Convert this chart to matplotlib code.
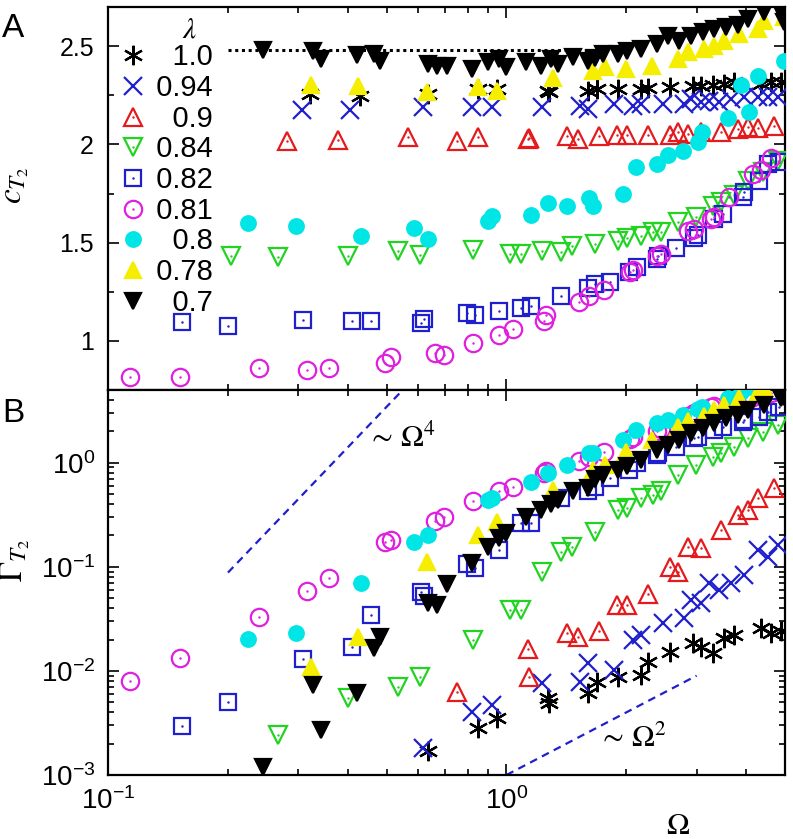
import numpy as np
import matplotlib
matplotlib.use('Agg')
import matplotlib.pyplot as plt
from matplotlib.ticker import MultipleLocator, LogLocator, NullFormatter, FuncFormatter
from matplotlib.legend_handler import HandlerTuple

plt.rcParams['font.family'] = ['Liberation Sans', 'DejaVu Sans']
plt.rcParams['mathtext.fontset'] = 'stix'

nan = np.nan

# lambda = 1.0
om_100 = [0.322, 0.43, 0.637, 0.85, 0.947, 1.27, 1.28, 1.60, 1.69, 1.91, 2.17, 2.26, 2.58, 2.93, 3.07,
          3.29, 3.51, 3.72, 4.35, 4.61, 4.88]
c_100 = [2.256, 2.246, 2.256, 2.282, 2.282, 2.272, 2.265, 2.272, 2.282, 2.282, 2.282, 2.287, 2.292,
         2.297, 2.297, 2.302, 2.307, 2.317, 2.307, 2.317, 2.317]
g_100 = [nan, nan, 0.0017, 0.0028, 0.0035, 0.0055, 0.0049, 0.0061, 0.0078, 0.0087, 0.0092, 0.0122,
         0.0152, 0.0186, 0.017, 0.0149, 0.0207, 0.0222, 0.026, 0.023, 0.024]
# lambda = 0.94
om_094 = [0.307, 0.406, 0.616, 0.818, 0.92, 1.23, 1.53, 1.60, 1.86, 2.08, 2.17, 2.47, 2.79, 2.90, 3.07,
          3.22, 3.41, 3.65, 3.94, 4.27, 4.53, 4.80]
c_094 = [2.175, 2.175, 2.19, 2.19, 2.19, 2.19, 2.195, 2.18, 2.206, 2.195, 2.206, 2.206, 2.206, 2.231,
         2.216, 2.221, 2.216, 2.231, 2.241, 2.241, 2.241, 2.241]
g_094 = [nan, nan, 0.0018, 0.004, 0.0047, 0.0077, 0.0078, 0.0119, 0.0102, 0.0199, 0.022, 0.029, 0.032,
         0.048, 0.045, 0.070, 0.06, 0.070, 0.084, 0.146, 0.125, 0.163]
# lambda = 0.9
om_090 = [0.282, 0.378, 0.567, 0.753, 0.85, 1.13, 1.14, 1.42, 1.51, 1.71, 1.89, 2.01, 2.27, 2.58, 2.69,
          2.85, 3.07, 3.45, 3.81, 4.03, 4.27, 4.69]
c_090 = [2.018, 2.023, 2.038, 2.018, 2.038, 2.03, 2.033, 2.043, 2.028, 2.043, 2.048, 2.048, 2.048, 2.048,
         2.063, 2.053, 2.063, 2.063, 2.079, 2.089, 2.084, 2.094]
g_090 = [nan, nan, nan, 0.0063, nan, 0.0163, 0.0087, 0.0232, 0.0212, 0.024, 0.043, 0.043, 0.055, 0.1,
         0.09, 0.156, 0.15, 0.227, 0.316, 0.353, 0.46, 0.575]
# lambda = 0.84
om_084 = [0.203, 0.267, 0.4, 0.535, 0.608, 0.822, 1.02, 1.09, 1.23, 1.37, 1.46, 1.67, 1.91, 2.01, 2.17,
          2.33, 2.44, 2.69, 2.99, 3.29, 3.45, 3.72, 4.03, 4.40, 4.80]
c_084 = [1.434, 1.429, 1.434, 1.455, 1.439, 1.464, 1.444, 1.444, 1.459, 1.454, 1.485, 1.495, 1.51, 1.525,
         1.536, 1.556, 1.556, 1.607, 1.632, 1.688, 1.708, 1.744, 1.815, 1.86, 1.916]
g_084 = [nan, 0.0024, 0.0055, 0.007, 0.0088, 0.020, 0.0386, 0.0386, 0.0895, 0.139, 0.156, 0.217, 0.353,
         0.37, 0.46, 0.49, 0.53, 0.77, 0.96, 1.14, 1.25, 1.43, 1.74, 1.99, 2.32]
# lambda = 0.82
om_082 = [0.153, 0.2, 0.309, 0.41, 0.458, 0.611, 0.622, 0.798, 0.836, 0.96, 1.09, 1.155, 1.37, 1.60, 1.67,
          1.82, 2.03, 2.13, 2.38, 2.40, 2.67, 2.95, 3.02, 3.31, 3.49, 3.92, 3.94, 4.30, 4.54, 4.82]
c_082 = [1.094, 1.074, 1.104, 1.099, 1.099, 1.089, 1.109, 1.14, 1.13, 1.15, 1.165, 1.18, 1.226, 1.27,
         1.287, 1.30, 1.353, 1.378, 1.419, 1.434, 1.475, 1.525, 1.54, 1.622, 1.647, 1.733, 1.759, 1.815,
         1.90, 1.91]
g_082 = [0.00296, 0.00504, 0.013, 0.017, 0.0346, 0.0575, 0.052, 0.107, 0.098, 0.146, 0.265, 0.265, 0.46,
         0.53, 0.59, 0.72, 0.86, 1.0, 1.19, 1.25, 1.43, 1.74, 1.78, 2.08, 2.22, 2.48, 2.6, 2.77, 3.1, 3.4]
# lambda = 0.81
om_081 = [0.1135, 0.152, 0.239, 0.316, 0.359, 0.497, 0.512, 0.663, 0.695, 0.826, 0.955, 1.04, 1.24, 1.26,
          1.52, 1.61, 1.76, 2.04, 2.08, 2.39, 2.44, 2.85, 2.95, 3.26, 3.31, 3.61, 4.15, 4.35, 4.61]
c_081 = [0.815, 0.815, 0.86, 0.85, 0.86, 0.886, 0.916, 0.936, 0.93, 0.99, 1.03, 1.06, 1.10, 1.13, 1.20,
         1.23, 1.26, 1.35, 1.36, 1.43, 1.44, 1.56, 1.57, 1.62, 1.63, 1.73, 1.85, 1.87, 1.93]
g_081 = [0.008, 0.0133, 0.033, 0.059, 0.078, 0.174, 0.18, 0.277, 0.30, 0.43, 0.53, 0.59, 0.80, 0.84, 1.05,
         1.14, 1.28, 1.7, 1.78, 2.0, 2.1, 2.8, 3.0, 3.4, 3.5, 3.9, 4.3, 4.5, 4.7]
# lambda = 0.8
om_080 = [0.225, 0.297, 0.432, 0.587, 0.637, 0.901, 0.92, 1.15, 1.27, 1.42, 1.61, 1.65, 1.96, 2.11, 2.39,
          2.54, 2.77, 3.02, 3.10, 3.59, 3.87, 4.05, 4.27, 4.96]
c_080 = [1.602, 1.586, 1.536, 1.576, 1.52, 1.612, 1.637, 1.642, 1.703, 1.688, 1.728, 1.688, 1.749, 1.886,
         1.90, 1.947, 1.967, 2.013, 2.063, 2.135, 2.302, 2.165, 2.348, 2.424]
g_080 = [0.0203, 0.0232, 0.070, 0.174, 0.203, 0.44, 0.46, 0.66, 0.80, 0.96, 1.25, 1.25, 1.66, 2.08, 2.42,
         2.6, 2.9, 3.3, 3.4, 4.2, 4.8, 5.3, 5.6, 6.5]
# lambda = 0.78
om_078 = [0.324, 0.425, 0.633, 0.85, 0.947, 1.31, 1.65, 1.77, 1.99, 2.32, 2.70, 2.85, 3.13, 3.31, 3.51,
          3.83, 4.27, 4.42, 4.96]
c_078 = [2.302, 2.297, 2.266, 2.292, 2.272, 2.338, 2.373, 2.393, 2.383, 2.398, 2.434, 2.47, 2.485, 2.5,
         2.525, 2.56, 2.586, 2.627, 2.647]
g_078 = [0.0109, 0.0212, 0.112, 0.203, 0.27, 0.55, 0.86, 0.96, 1.28, 1.66, 2.22, 2.5, 2.8, 3.2, 3.6, 4.2,
         4.8, 5.2, 6.0]
# lambda = 0.7
om_070 = [0.245, 0.326, 0.343, 0.422, 0.464, 0.482, 0.637, 0.67, 0.711, 0.818, 0.901, 0.955, 1.0, 1.12,
          1.22, 1.29, 1.35, 1.47, 1.60, 1.67, 1.75, 1.90, 2.01, 2.17, 2.39, 2.54, 2.71, 2.90, 3.11, 3.31,
          3.55, 3.81, 4.03, 4.42, 4.88, 4.96]
c_070 = [2.48, 2.475, 2.434, 2.454, 2.46, 2.424, 2.409, 2.40, 2.398, 2.383, 2.419, 2.434, 2.393, 2.419,
         2.398, 2.434, 2.409, 2.444, 2.424, 2.439, 2.46, 2.46, 2.475, 2.485, 2.51, 2.55, 2.525, 2.55, 2.57,
         2.586, 2.596, 2.61, 2.637, 2.673, 2.673, 2.622]
g_070 = [0.0012, 0.0073, 0.0027, 0.0062, 0.0166, 0.0212, 0.045, 0.043, 0.069, 0.109, 0.156, 0.19, 0.21,
         0.30, 0.353, 0.40, 0.44, 0.53, 0.575, 0.70, 0.77, 0.86, 0.92, 1.07, 1.33, 1.49, 1.66, 1.94, 2.17,
         2.42, 2.7, 2.9, 3.2, 3.6, 4.2, 4.3]

labels = ['1.0', '0.94', '0.9', '0.84', '0.82', '0.81', '0.8', '0.78', '0.7']
omegas = [om_100, om_094, om_090, om_084, om_082, om_081, om_080, om_078, om_070]
cs = [c_100, c_094, c_090, c_084, c_082, c_081, c_080, c_078, c_070]
gammas = [g_100, g_094, g_090, g_084, g_082, g_081, g_080, g_078, g_070]

# plateau of c for lambda=0.7 and the two power-law guides
plateau_c = 2.48
plateau_om = [0.2, 1.63]
om4_range = [0.2, 0.56]
om2_range = [1.0, 3.0]

blue = '#1f1fcf'
# marker, colour, filled, size, centre dot
styles = [((6, 2, 0), 'black', True, 14, False),
          ('x', blue, True, 13, False),
          ('^', '#e41a1c', False, 12.5, True),
          ('v', '#22d422', False, 12.5, True),
          ('s', blue, False, 12, True),
          ('o', '#e020e0', False, 12.5, True),
          ('o', '#00e5e5', True, 10.5, False),
          ('^', '#f5ee00', True, 12, False),
          ('v', 'black', True, 12, False)]

fig = plt.figure(figsize=(7.93, 8.39), dpi=100)
ax1 = fig.add_axes([0.1362, 0.5352, 0.8537, 0.4565])
ax2 = fig.add_axes([0.1362, 0.0763, 0.8537, 0.4589])

ax1.plot(plateau_om, [plateau_c, plateau_c], color='black', ls=(0, (1, 1.2)), lw=2.2, zorder=1)

handles = []
for om, c, g, lab, (mk, col, filled, ms, dot) in zip(omegas, cs, gammas, labels, styles):
    kw = dict(ls='none', marker=mk, ms=ms, mew=1.6, mec=col,
              mfc=col if filled else 'none', zorder=3)
    h, = ax1.plot(om, c, **kw)
    ax2.plot(om, g, **kw)
    if dot:
        d, = ax1.plot(om, c, ls='none', marker='.', ms=1.5, color=col, zorder=3)
        ax2.plot(om, g, ls='none', marker='.', ms=1.5, color=col, zorder=3)
        handles.append((h, d))
    else:
        handles.append(h)

om4 = np.array(om4_range)
om2 = np.array(om2_range)
ax2.plot(om4, 55 * om4**4, color=blue, ls=(0, (3.5, 2.5)), lw=1.6)
ax2.plot(om2, 1e-3 * om2**2, color=blue, ls=(0, (3.5, 2.5)), lw=1.6)
ax2.text(0.383, 0.852, r'$\sim\,\Omega^4$', transform=ax2.transAxes, fontsize=22)
ax2.text(0.724, 0.073, r'$\sim\,\Omega^2$', transform=ax2.transAxes, fontsize=22)

for ax in (ax1, ax2):
    ax.set_xscale('log')
    ax.set_xlim(0.1, 5.0)
    ax.tick_params(which='both', direction='in', top=True, right=True, width=1.2)
    ax.tick_params(which='major', length=8)
    ax.tick_params(which='minor', length=4.5)
    ax.xaxis.set_minor_formatter(NullFormatter())
    for s in ax.spines.values():
        s.set_linewidth(1.6)

ax1.set_ylim(0.75, 2.70)
ax1.yaxis.set_major_locator(MultipleLocator(0.5))
ax1.yaxis.set_minor_locator(MultipleLocator(0.25))
ax1.yaxis.set_major_formatter(FuncFormatter(lambda v, p: '%g' % v))
ax1.tick_params(labelbottom=False, labelsize=18, pad=10)
ax1.set_ylabel(r'$c_{T_2}$', fontsize=24)
ax1.yaxis.set_label_coords(-0.114, 0.535)

ax2.set_yscale('log')
ax2.set_ylim(1e-3, 5.0)
ax2.yaxis.set_major_locator(LogLocator(base=10, numticks=10))
ax2.yaxis.set_minor_locator(LogLocator(base=10, subs=np.arange(2, 10), numticks=20))
ax2.yaxis.set_minor_formatter(NullFormatter())
ax2.tick_params(labelsize=20, pad=9)
ax2.set_ylabel(r'$\Gamma_{T_2}$', fontsize=24)
ax2.yaxis.set_label_coords(-0.112, 0.558)
ax2.set_xlabel(r'$\Omega$', fontsize=22)
ax2.xaxis.set_label_coords(0.842, -0.093)

# right-aligned legend labels: pad with figure spaces
fsp = '\u2007'
leg_labels = [fsp * (4 - len(s.replace('.', ''))) + s for s in labels]
leg = ax1.legend(handles, leg_labels, handler_map={tuple: HandlerTuple(ndivide=1)},
                 loc='upper left', bbox_to_anchor=(0.024, 0.905), frameon=False,
                 fontsize=21, borderaxespad=0, borderpad=0, labelspacing=0.092,
                 handlelength=0.6, handletextpad=-0.05)
ax1.text(0.1196, 0.9204, r'$\lambda$', transform=ax1.transAxes, fontsize=21,
         ha='center', va='baseline')

fig.text(0.0025, 0.956, 'A', fontsize=24)
fig.text(0.0025, 0.497, 'B', fontsize=24)

fig.savefig('out.png', dpi=100)
